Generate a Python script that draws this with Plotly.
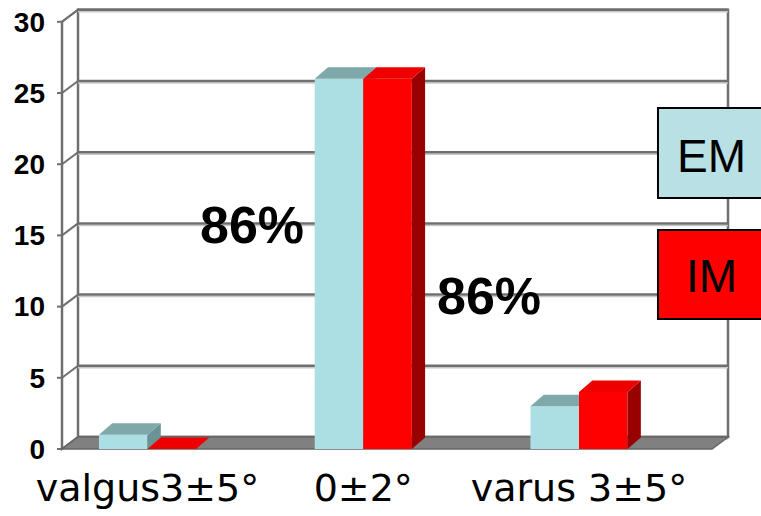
import plotly.graph_objects as go

# ---- data ----
categories = ["valgus3±5°", "0±2°", "varus 3±5°"]
em_counts = [1, 26, 3]
im_counts = [0, 26, 4]
y_ticks = [0, 5, 10, 15, 20, 25, 30]

# ---- pseudo-3D geometry (axis units) ----
PX_X = 215.75          # pixels per x unit
PX_Y = 14.24           # pixels per y unit
BAR_W = 0.225
BAR_DX = 13.3 / PX_X
BAR_DY = 11.6 / PX_Y
WALL_DX = 16 / PX_X
WALL_DY = 12 / PX_Y
XF_L = (62 - 147.5) / PX_X     # front-left corner of the floor
XF_R = (712 - 147.5) / PX_X    # front-right corner of the floor
X_RANGE = [(55 - 147.5) / PX_X, (730 - 147.5) / PX_X]
Y_RANGE = [-2 / PX_Y, (449 - 4) / PX_Y]
TICK_LEN = 5 / PX_X
Y_TOP = max(y_ticks)

EM_FRONT, EM_TOP, EM_SIDE = "#abdfe3", "#7fa8ab", "#6b9396"
IM_FRONT, IM_TOP, IM_SIDE = "#ff0000", "#ee0000", "#990000"
GRID = "#6f6f6f"
GRID_SHADOW = "#c8c8c8"


def poly(pts, closed=True):
    return "M " + " L ".join(f"{x},{y}" for x, y in pts) + (" Z" if closed else "")


shapes = []
# left side wall and back wall
shapes.append(dict(type="path", xref="x", yref="y", layer="below",
                   path=poly([(XF_L, 0), (XF_L, Y_TOP), (XF_L + WALL_DX, Y_TOP + WALL_DY),
                              (XF_L + WALL_DX, WALL_DY)]),
                   fillcolor="white", line=dict(color=GRID, width=2)))
shapes.append(dict(type="rect", xref="x", yref="y", layer="below",
                   x0=XF_L + WALL_DX, x1=XF_R + WALL_DX, y0=WALL_DY, y1=Y_TOP + WALL_DY,
                   fillcolor="white", line=dict(color=GRID, width=2.5)))
# gridlines on the walls (with a soft shadow) + tick marks on the front axis
for t in y_ticks:
    shapes.append(dict(type="line", xref="x", yref="y", layer="below",
                       x0=XF_L + WALL_DX, x1=XF_R + WALL_DX,
                       y0=t + WALL_DY - 2 / PX_Y, y1=t + WALL_DY - 2 / PX_Y,
                       line=dict(color=GRID_SHADOW, width=1.5)))
    shapes.append(dict(type="line", xref="x", yref="y", layer="below",
                       x0=XF_L + WALL_DX, x1=XF_R + WALL_DX, y0=t + WALL_DY, y1=t + WALL_DY,
                       line=dict(color=GRID, width=2.5)))
    shapes.append(dict(type="line", xref="x", yref="y", layer="below",
                       x0=XF_L, x1=XF_L + WALL_DX, y0=t, y1=t + WALL_DY,
                       line=dict(color=GRID, width=2)))
    shapes.append(dict(type="line", xref="x", yref="y", layer="below",
                       x0=XF_L - TICK_LEN, x1=XF_L, y0=t, y1=t,
                       line=dict(color=GRID, width=2)))
# front vertical axis line
shapes.append(dict(type="line", xref="x", yref="y", layer="below",
                   x0=XF_L, x1=XF_L, y0=0, y1=Y_TOP, line=dict(color=GRID, width=2.5)))
# floor
shapes.append(dict(type="path", xref="x", yref="y", layer="below",
                   path=poly([(XF_L, 0), (XF_R, 0), (XF_R + WALL_DX, WALL_DY),
                              (XF_L + WALL_DX, WALL_DY)]),
                   fillcolor="#808080", line=dict(color="#666666", width=1.5)))

# legend boxes running off the right edge: fill, then an open outline
for y0, y1, col in [(0.566, 0.7673, "#b9e0e5"), (0.2953, 0.4944, "#ff0000")]:
    shapes.append(dict(type="rect", xref="paper", yref="paper", layer="above",
                       x0=0.8933, x1=1.12, y0=y0, y1=y1,
                       fillcolor=col, line=dict(width=0)))
    shapes.append(dict(type="path", xref="paper", yref="paper", layer="above",
                       path=poly([(1.12, y1), (0.8933, y1), (0.8933, y0), (1.12, y0)],
                                 closed=False),
                       fillcolor="rgba(0,0,0,0)", line=dict(color="black", width=2)))


def faces(values, left_offset):
    tops_x, tops_y, sides_x, sides_y = [], [], [], []
    for i, v in enumerate(values):
        x0 = i + left_offset
        x1 = x0 + BAR_W
        tx = [x0, x1, x1 + BAR_DX, x0 + BAR_DX, x0]
        ty = [v, v, v + BAR_DY, v + BAR_DY, v]
        sx = [x1, x1, x1 + BAR_DX, x1 + BAR_DX, x1]
        sy = [0, v, v + BAR_DY, BAR_DY, 0]
        tops_x += tx + [None]
        tops_y += ty + [None]
        sides_x += sx + [None]
        sides_y += sy + [None]
    return tops_x, tops_y, sides_x, sides_y


fig = go.Figure()
xs = list(range(len(categories)))

for values, offset, cols, xa, ya, name in [
    (em_counts, -BAR_W, (EM_FRONT, EM_TOP, EM_SIDE), "x", "y", "EM"),
    (im_counts, 0.0, (IM_FRONT, IM_TOP, IM_SIDE), "x2", "y2", "IM"),
]:
    fig.add_trace(go.Bar(x=xs, y=values, base=0, width=BAR_W, offset=offset,
                         marker=dict(color=cols[0], line=dict(width=0)),
                         name=name, xaxis=xa, yaxis=ya, showlegend=False))
    tx, ty, sx, sy = faces(values, offset)
    fig.add_trace(go.Scatter(x=sx, y=sy, mode="lines", fill="toself", fillcolor=cols[2],
                             line=dict(width=0), hoverinfo="skip", showlegend=False,
                             xaxis=xa, yaxis=ya))
    fig.add_trace(go.Scatter(x=tx, y=ty, mode="lines", fill="toself", fillcolor=cols[1],
                             line=dict(width=0), hoverinfo="skip", showlegend=False,
                             xaxis=xa, yaxis=ya))

# share of the neutral group in each series
em_share = int(100 * em_counts[1] / sum(em_counts))
im_share = int(100 * im_counts[1] / sum(im_counts))

FONT = "Liberation Sans, Arial, sans-serif"
annotations = [
    dict(x=0.484, y=15.73, xref="x", yref="y", text=f"<b>{em_share}%</b>", showarrow=False,
         xanchor="center", yanchor="middle", font=dict(family=FONT, size=52, color="black")),
    dict(x=1.583, y=10.74, xref="x", yref="y", text=f"<b>{im_share}%</b>", showarrow=False,
         xanchor="center", yanchor="middle", font=dict(family=FONT, size=52, color="black")),
    dict(x=0.9719, y=0.66, xref="paper", yref="paper", text="EM", showarrow=False,
         xanchor="center", yanchor="middle", font=dict(family=FONT, size=46, color="black")),
    dict(x=0.9726, y=0.3904, xref="paper", yref="paper", text="IM", showarrow=False,
         xanchor="center", yanchor="middle", font=dict(family=FONT, size=46, color="black")),
]

fig.update_layout(
    width=761, height=516,
    margin=dict(l=55, r=31, t=4, b=65),
    paper_bgcolor="white", plot_bgcolor="white",
    barmode="overlay",
    shapes=shapes, annotations=annotations,
    xaxis=dict(range=X_RANGE, tickvals=xs, ticktext=categories, showgrid=False,
               zeroline=False, showline=False, ticks="", ticklabelstandoff=11,
               tickfont=dict(family="DejaVu Sans", size=38, color="black")),
    yaxis=dict(range=Y_RANGE, tickvals=y_ticks, ticktext=[str(t) for t in y_ticks],
               showgrid=False, zeroline=False, showline=False, ticks="",
               ticklabelstandoff=9,
               tickfont=dict(family=FONT, size=28, color="black", weight="bold")),
    xaxis2=dict(overlaying="x", matches="x", visible=False),
    yaxis2=dict(overlaying="y", matches="y", visible=False),
)

fig.write_html("out.html")
